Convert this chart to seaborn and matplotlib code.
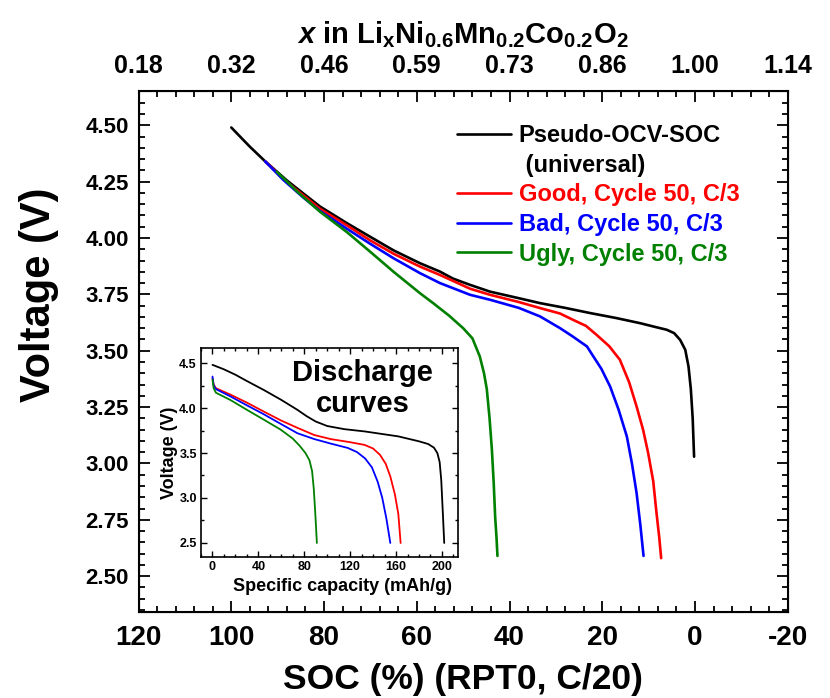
import numpy as np
import pandas as pd
import matplotlib
matplotlib.use('Agg')
import matplotlib.pyplot as plt
import seaborn as sns
from matplotlib.lines import Line2D
from matplotlib.ticker import MultipleLocator, FormatStrFormatter

# --- main panel: voltage vs SOC (%) ---
soc_ocv = [100, 96, 92.7, 88, 84, 80.9, 75, 70.1, 65, 59.3, 55, 52.2, 48.5, 44.2, 38, 33.4, 28, 22.6, 17, 11.8, 8.5, 6.1, 4.5, 3.2, 2.1, 1.4, 0.9, 0.5, 0.2]
v_ocv = [4.49, 4.405, 4.34, 4.255, 4.19, 4.14, 4.065, 4.006, 3.945, 3.888, 3.851, 3.82, 3.792, 3.762, 3.733, 3.711, 3.69, 3.667, 3.645, 3.622, 3.605, 3.593, 3.578, 3.548, 3.504, 3.43, 3.33, 3.2, 3.03]

soc_good = [92.7, 88, 80.9, 75, 70.1, 65, 59.3, 55, 48.5, 44.2, 38, 33.4, 29.1, 26.3, 23.5, 21.2, 18.5, 16.2, 14.2, 12.6, 11.2, 10.1, 9.0, 8.3, 7.7, 7.3]
v_good = [4.34, 4.248, 4.13, 4.055, 3.99, 3.93, 3.873, 3.836, 3.775, 3.748, 3.716, 3.689, 3.665, 3.637, 3.61, 3.57, 3.52, 3.46, 3.36, 3.253, 3.15, 3.046, 2.92, 2.78, 2.67, 2.58]

soc_bad = [92.7, 91.6, 88.8, 84.5, 80.9, 75, 70.1, 65, 59.3, 55, 48.5, 44.2, 38, 33.4, 29.1, 26.5, 23.3, 21.9, 20.2, 18.3, 16.5, 14.7, 13.6, 12.6, 11.8, 11.1]
v_bad = [4.34, 4.317, 4.258, 4.18, 4.12, 4.04, 3.975, 3.91, 3.844, 3.80, 3.748, 3.726, 3.69, 3.652, 3.60, 3.565, 3.519, 3.474, 3.42, 3.341, 3.24, 3.12, 3.0, 2.869, 2.73, 2.59]

soc_ugly = [90.2, 86, 80.9, 75, 70.1, 65, 59.3, 56.4, 53, 50, 48, 46.4, 45.5, 44.9, 44.3, 43.8, 43.4, 43.1, 42.8, 42.6]
v_ugly = [4.294, 4.21, 4.117, 4.025, 3.94, 3.85, 3.755, 3.71, 3.655, 3.60, 3.555, 3.474, 3.40, 3.33, 3.2, 3.061, 2.91, 2.765, 2.67, 2.59]

soc_ticks = [120, 100, 80, 60, 40, 20, 0, -20]
x_li_labels = ['0.18', '0.32', '0.46', '0.59', '0.73', '0.86', '1.00', '1.14']

# --- inset: discharge curves vs specific capacity ---
cap_ocv = [0, 10, 20, 30, 44.8, 60, 74, 82, 90, 100, 115, 132.6, 161.9, 180, 188, 193, 196, 198, 199.4, 200.8, 202]
vi_ocv = [4.48, 4.43, 4.37, 4.30, 4.20, 4.09, 3.98, 3.91, 3.85, 3.80, 3.765, 3.74, 3.685, 3.63, 3.60, 3.56, 3.50, 3.40, 3.20, 2.83, 2.50]
cap_good = [0, 1, 3, 15.5, 30, 44.8, 60, 74, 88.7, 103, 120, 132.6, 140, 146, 151, 155, 159, 162, 164]
vi_good = [4.33, 4.26, 4.22, 4.15, 4.06, 3.96, 3.86, 3.78, 3.70, 3.655, 3.62, 3.59, 3.55, 3.48, 3.38, 3.24, 3.04, 2.82, 2.50]
cap_bad = [0, 1, 3, 15.5, 30, 44.8, 60, 74, 88.7, 103, 118, 126, 133, 139, 144, 148, 151.6, 155]
vi_bad = [4.35, 4.25, 4.21, 4.13, 4.03, 3.93, 3.82, 3.72, 3.655, 3.605, 3.556, 3.51, 3.44, 3.34, 3.18, 3.0, 2.77, 2.50]
cap_ugly = [0, 1, 3, 15.5, 30, 44.8, 59.4, 70, 76, 81, 84.5, 86.8, 88.3, 89.5, 91]
vi_ugly = [4.315, 4.22, 4.17, 4.09, 3.98, 3.87, 3.76, 3.66, 3.58, 3.50, 3.42, 3.30, 3.10, 2.85, 2.50]

names = ['Pseudo-OCV-SOC', 'Good, Cycle 50, C/3', 'Bad, Cycle 50, C/3', 'Ugly, Cycle 50, C/3']
colors = ['black', '#ff0000', '#0000ff', '#008000']

main_df = pd.concat([
    pd.DataFrame({'soc': s, 'v': v, 'cell': n})
    for s, v, n in zip([soc_ocv, soc_good, soc_bad, soc_ugly], [v_ocv, v_good, v_bad, v_ugly], names)
])
inset_df = pd.concat([
    pd.DataFrame({'cap': c, 'v': v, 'cell': n})
    for c, v, n in zip([cap_ocv, cap_good, cap_bad, cap_ugly], [vi_ocv, vi_good, vi_bad, vi_ugly], names)
])
palette = dict(zip(names, colors))

sns.set_style('ticks')
plt.rcParams['font.family'] = ['Liberation Sans', 'DejaVu Sans']
plt.rcParams['font.weight'] = 'bold'
plt.rcParams['axes.unicode_minus'] = False
plt.rcParams['mathtext.fontset'] = 'custom'
plt.rcParams['mathtext.rm'] = 'Liberation Sans:bold'
plt.rcParams['mathtext.bf'] = 'Liberation Sans:bold'
plt.rcParams['mathtext.it'] = 'Liberation Sans:bold:italic'
for k in ['text.color', 'axes.labelcolor', 'xtick.color', 'ytick.color', 'axes.edgecolor']:
    plt.rcParams[k] = 'black'

fig = plt.figure(figsize=(8.3, 6.98), dpi=100)
ax = fig.add_axes([0.1669, 0.1228, 0.7822, 0.7472])

sns.lineplot(data=main_df, x='soc', y='v', hue='cell', palette=palette, sort=False,
             estimator=None, linewidth=1.9, legend=False, ax=ax)

ax.set_xlim(120, -20)
ax.set_ylim(2.34, 4.653)
ax.xaxis.set_major_locator(MultipleLocator(20))
ax.xaxis.set_minor_locator(MultipleLocator(4))
ax.yaxis.set_major_locator(MultipleLocator(0.25))
ax.yaxis.set_minor_locator(MultipleLocator(0.05))
ax.yaxis.set_major_formatter(FormatStrFormatter('%.2f'))
ax.tick_params(which='both', direction='in', top=True, right=True, width=1.3)
ax.tick_params(which='major', length=8)
ax.tick_params(which='minor', length=4.5)
ax.tick_params(axis='y', labelsize=16, pad=7)
ax.tick_params(axis='x', labelsize=20, pad=9)
for sp in ax.spines.values():
    sp.set_linewidth(1.5)
ax.set_xlabel('SOC (%) (RPT0, C/20)', fontsize=25.5, fontweight='bold', labelpad=9)
ax.set_ylabel('Voltage (V)', fontsize=30, fontweight='bold')
ax.yaxis.set_label_coords(-0.122, 0.608)

# top axis: lithium content
top = ax.twiny()
top.set_xlim(ax.get_xlim())
top.set_xticks(soc_ticks)
top.set_xticklabels(x_li_labels)
top.xaxis.set_minor_locator(MultipleLocator(4))
top.tick_params(which='both', direction='in', width=1.3)
top.tick_params(which='major', length=8, labelsize=18, pad=9)
top.tick_params(which='minor', length=4.5)
top.set_xlabel(r'$\mathit{x}$ in Li$_\mathrm{x}$Ni$_\mathrm{0.6}$Mn$_\mathrm{0.2}$Co$_\mathrm{0.2}$O$_\mathrm{2}$',
               fontsize=21, fontweight='bold', labelpad=8)

# legend
handles = [Line2D([], [], color=colors[0], lw=1.9),
           Line2D([], [], color='none'),
           Line2D([], [], color=colors[1], lw=1.9),
           Line2D([], [], color=colors[2], lw=1.9),
           Line2D([], [], color=colors[3], lw=1.9)]
labels = [names[0], ' (universal)', names[1], names[2], names[3]]
leg = ax.legend(handles, labels, loc='upper left', bbox_to_anchor=(0.49, 0.936), frameon=False,
                fontsize=17, handlelength=2.29, handletextpad=0.33, labelspacing=0.28,
                borderpad=0, borderaxespad=0)
for txt, c in zip(leg.get_texts(), [colors[0], colors[0]] + colors[1:]):
    txt.set_color(c)
    txt.set_fontweight('bold')

# inset
ins = fig.add_axes([0.2422, 0.202, 0.3096, 0.2994])
sns.lineplot(data=inset_df, x='cap', y='v', hue='cell', palette=palette, sort=False,
             estimator=None, linewidth=1.3, legend=False, ax=ins)
ins.set_xlim(-10, 214)
ins.set_ylim(2.344, 4.667)
ins.xaxis.set_major_locator(MultipleLocator(40))
ins.xaxis.set_minor_locator(MultipleLocator(10))
ins.yaxis.set_major_locator(MultipleLocator(0.5))
ins.yaxis.set_minor_locator(MultipleLocator(0.25))
ins.tick_params(which='both', direction='in', top=True, right=True, width=1.0, labelsize=9, pad=3)
ins.tick_params(which='major', length=4)
ins.tick_params(which='minor', length=2.5)
for sp in ins.spines.values():
    sp.set_linewidth(1.2)
ins.set_xlabel('Specific capacity (mAh/g)', fontsize=13, fontweight='bold')
ins.xaxis.set_label_coords(0.549, -0.1)
ins.set_ylabel('Voltage (V)', fontsize=13, fontweight='bold', labelpad=1)
ins.text(0.63, 0.805, 'Discharge\ncurves', transform=ins.transAxes, ha='center', va='center',
         fontsize=21, fontweight='bold', linespacing=1.12)

fig.savefig('out.png', dpi=100)
